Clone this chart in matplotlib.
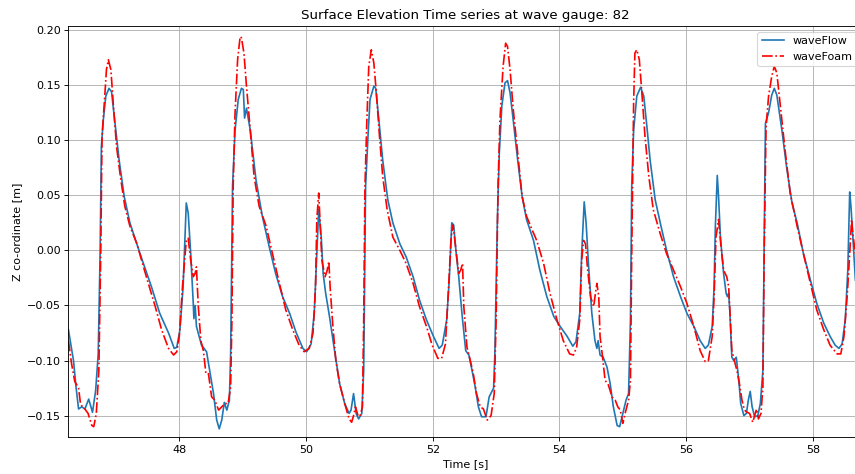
import matplotlib
matplotlib.use("Agg")
import matplotlib.pyplot as plt

# waveFlow (blue) - time [s], elevation [m]
flow_t = [46.25, 46.33, 46.37, 46.41, 46.46, 46.51, 46.57, 46.63, 46.68, 46.72,
          46.75, 46.77, 46.80, 46.84, 46.89, 46.93, 46.98, 47.05, 47.13, 47.22,
          47.38, 47.56, 47.69, 47.83, 47.92, 47.96, 48.01, 48.06, 48.11, 48.14,
          48.18, 48.22, 48.23, 48.25, 48.27, 48.35, 48.43, 48.48, 48.54, 48.59,
          48.63, 48.67, 48.71, 48.75, 48.79, 48.81, 48.84, 48.88, 48.93, 48.98,
          49.01, 49.03, 49.06, 49.12, 49.21, 49.31, 49.42, 49.52, 49.63, 49.74,
          49.84, 49.95, 50.01, 50.08, 50.13, 50.17, 50.20, 50.24, 50.27, 50.31,
          50.37, 50.45, 50.53, 50.61, 50.68, 50.71, 50.75, 50.79, 50.83, 50.88,
          50.91, 50.94, 50.98, 51.01, 51.07, 51.10, 51.15, 51.21, 51.29, 51.37,
          51.48, 51.58, 51.69, 51.79, 51.90, 52.01, 52.10, 52.15, 52.22, 52.26,
          52.30, 52.33, 52.37, 52.41, 52.46, 52.52, 52.57, 52.62, 52.67, 52.72,
          52.77, 52.84, 52.89, 52.96, 52.98, 53.02, 53.05, 53.09, 53.14, 53.18,
          53.22, 53.27, 53.34, 53.41, 53.48, 53.59, 53.69, 53.80, 53.91, 54.01,
          54.12, 54.21, 54.26, 54.32, 54.35, 54.39, 54.42, 54.46, 54.51, 54.56,
          54.59, 54.61, 54.64, 54.69, 54.75, 54.80, 54.85, 54.91, 54.95, 55.00,
          55.05, 55.09, 55.12, 55.14, 55.17, 55.22, 55.28, 55.33, 55.38, 55.43,
          55.51, 55.59, 55.69, 55.80, 55.91, 56.01, 56.12, 56.22, 56.30, 56.35,
          56.41, 56.44, 56.46, 56.49, 56.51, 56.54, 56.59, 56.63, 56.65, 56.67,
          56.69, 56.72, 56.75, 56.79, 56.83, 56.86, 56.91, 56.95, 56.98, 57.01,
          57.04, 57.08, 57.13, 57.17, 57.21, 57.24, 57.25, 57.30, 57.35, 57.39,
          57.43, 57.51, 57.59, 57.67, 57.75, 57.85, 57.96, 58.06, 58.17, 58.27,
          58.35, 58.41, 58.46, 58.51, 58.55, 58.58, 58.60, 58.63, 58.67]
flow_z = [-0.072, -0.100, -0.124, -0.144, -0.142, -0.144, -0.135, -0.147, -0.127, -0.094,
          -0.003, 0.094, 0.118, 0.140, 0.147, 0.144, 0.118, 0.082, 0.049, 0.025,
          -0.003, -0.033, -0.057, -0.075, -0.089, -0.088, -0.072, -0.033, 0.043, 0.034,
          -0.003, -0.048, -0.062, -0.050, -0.069, -0.086, -0.092, -0.109, -0.130, -0.154,
          -0.162, -0.154, -0.138, -0.145, -0.136, -0.094, 0.058, 0.109, 0.137, 0.147,
          0.146, 0.120, 0.129, 0.109, 0.064, 0.031, 0.003, -0.021, -0.042, -0.057,
          -0.074, -0.089, -0.092, -0.085, -0.057, -0.003, 0.037, 0.012, -0.021, -0.039,
          -0.060, -0.091, -0.121, -0.139, -0.148, -0.145, -0.130, -0.148, -0.153, -0.148,
          -0.109, 0.058, 0.106, 0.137, 0.149, 0.147, 0.118, 0.082, 0.046, 0.025,
          0.006, -0.006, -0.024, -0.045, -0.063, -0.078, -0.089, -0.086, -0.063, -0.027,
          0.025, 0.023, -0.003, -0.024, -0.057, -0.091, -0.095, -0.109, -0.124, -0.142,
          -0.151, -0.151, -0.133, -0.125, -0.094, 0.028, 0.088, 0.131, 0.152, 0.154,
          0.143, 0.118, 0.082, 0.049, 0.028, 0.009, -0.018, -0.042, -0.060, -0.069,
          -0.078, -0.087, -0.083, -0.057, -0.003, 0.044, 0.025, -0.015, -0.057, -0.082,
          -0.089, -0.082, -0.095, -0.097, -0.106, -0.121, -0.142, -0.159, -0.160, -0.148,
          -0.136, -0.130, -0.063, 0.058, 0.109, 0.140, 0.148, 0.140, 0.112, 0.082,
          0.046, 0.025, 0.000, -0.024, -0.042, -0.057, -0.069, -0.082, -0.089, -0.086,
          -0.069, -0.033, 0.022, 0.068, 0.049, 0.012, -0.021, -0.039, -0.042, -0.039,
          -0.057, -0.097, -0.100, -0.097, -0.118, -0.139, -0.150, -0.148, -0.136, -0.128,
          -0.142, -0.151, -0.150, -0.139, -0.109, 0.058, 0.115, 0.125, 0.141, 0.147,
          0.141, 0.109, 0.073, 0.043, 0.025, -0.003, -0.027, -0.048, -0.066, -0.078,
          -0.086, -0.089, -0.085, -0.063, -0.018, 0.053, 0.040, 0.012, -0.027]

# waveFoam (red) - time [s], elevation [m]
foam_t = [46.25, 46.30, 46.35, 46.41, 46.44, 46.47, 46.51, 46.56, 46.62, 46.65,
          46.69, 46.73, 46.76, 46.78, 46.82, 46.85, 46.88, 46.92, 46.96, 47.01,
          47.07, 47.14, 47.22, 47.33, 47.48, 47.62, 47.72, 47.83, 47.91, 47.96,
          48.00, 48.05, 48.11, 48.14, 48.18, 48.22, 48.25, 48.27, 48.30, 48.34,
          48.38, 48.42, 48.46, 48.51, 48.56, 48.62, 48.67, 48.72, 48.77, 48.81,
          48.83, 48.85, 48.88, 48.92, 48.96, 48.98, 49.02, 49.06, 49.12, 49.18,
          49.26, 49.37, 49.47, 49.58, 49.68, 49.79, 49.89, 49.97, 50.05, 50.11,
          50.15, 50.17, 50.20, 50.22, 50.25, 50.30, 50.33, 50.36, 50.38, 50.42,
          50.47, 50.53, 50.61, 50.68, 50.72, 50.75, 50.78, 50.82, 50.85, 50.89,
          50.91, 50.93, 50.96, 50.99, 51.03, 51.07, 51.11, 51.16, 51.21, 51.28,
          51.37, 51.48, 51.58, 51.69, 51.79, 51.90, 51.99, 52.08, 52.14, 52.20,
          52.25, 52.29, 52.32, 52.36, 52.41, 52.44, 52.47, 52.49, 52.54, 52.58,
          52.64, 52.69, 52.75, 52.80, 52.86, 52.92, 52.97, 53.00, 53.03, 53.06,
          53.11, 53.15, 53.18, 53.22, 53.27, 53.34, 53.41, 53.48, 53.58, 53.64,
          53.75, 53.85, 53.96, 54.06, 54.16, 54.22, 54.27, 54.32, 54.35, 54.38,
          54.41, 54.44, 54.49, 54.54, 54.56, 54.59, 54.62, 54.64, 54.68, 54.72,
          54.77, 54.83, 54.88, 54.92, 54.96, 55.00, 55.04, 55.09, 55.12, 55.14,
          55.17, 55.19, 55.22, 55.26, 55.30, 55.35, 55.41, 55.48, 55.59, 55.69,
          55.80, 55.91, 56.01, 56.12, 56.22, 56.30, 56.35, 56.41, 56.44, 56.47,
          56.51, 56.55, 56.59, 56.64, 56.67, 56.69, 56.72, 56.76, 56.80, 56.84,
          56.88, 56.92, 56.96, 57.00, 57.05, 57.11, 57.14, 57.18, 57.21, 57.23,
          57.26, 57.30, 57.35, 57.39, 57.43, 57.48, 57.56, 57.64, 57.75, 57.85,
          57.96, 58.06, 58.17, 58.27, 58.38, 58.44, 58.49, 58.54, 58.58, 58.61,
          58.63, 58.67]
foam_z = [-0.082, -0.103, -0.119, -0.125, -0.139, -0.142, -0.144, -0.148, -0.159, -0.160,
          -0.148, -0.109, -0.003, 0.103, 0.137, 0.164, 0.173, 0.164, 0.131, 0.094,
          0.067, 0.040, 0.022, 0.006, -0.024, -0.051, -0.072, -0.089, -0.095, -0.092,
          -0.078, -0.033, 0.009, 0.011, -0.009, -0.024, -0.021, -0.015, -0.051, -0.082,
          -0.091, -0.112, -0.112, -0.133, -0.136, -0.145, -0.142, -0.139, -0.139, -0.124,
          -0.063, 0.058, 0.125, 0.173, 0.194, 0.193, 0.179, 0.149, 0.109, 0.067,
          0.040, 0.022, -0.003, -0.030, -0.054, -0.072, -0.086, -0.092, -0.089, -0.075,
          -0.033, 0.028, 0.052, 0.028, -0.009, -0.024, -0.019, -0.010, -0.033, -0.066,
          -0.100, -0.121, -0.139, -0.153, -0.156, -0.150, -0.142, -0.150, -0.151, -0.142,
          -0.063, 0.058, 0.118, 0.167, 0.182, 0.170, 0.143, 0.103, 0.067, 0.037,
          0.012, 0.000, -0.012, -0.030, -0.051, -0.069, -0.086, -0.098, -0.098, -0.085,
          -0.033, 0.012, 0.023, 0.003, -0.021, -0.018, -0.012, -0.051, -0.088, -0.097,
          -0.112, -0.130, -0.142, -0.144, -0.154, -0.150, -0.130, -0.063, 0.058, 0.118,
          0.167, 0.188, 0.185, 0.164, 0.128, 0.088, 0.049, 0.031, 0.017, 0.009,
          -0.012, -0.039, -0.063, -0.082, -0.094, -0.095, -0.088, -0.063, -0.009, 0.009,
          0.006, -0.015, -0.042, -0.051, -0.042, -0.030, -0.042, -0.078, -0.097, -0.118,
          -0.122, -0.133, -0.136, -0.142, -0.145, -0.157, -0.147, -0.136, -0.118, -0.003,
          0.134, 0.179, 0.182, 0.173, 0.143, 0.103, 0.067, 0.037, 0.015, -0.003,
          -0.018, -0.033, -0.048, -0.069, -0.091, -0.101, -0.100, -0.078, -0.042, 0.012,
          0.028, 0.003, -0.018, -0.024, -0.033, -0.057, -0.091, -0.100, -0.109, -0.121,
          -0.136, -0.145, -0.147, -0.148, -0.156, -0.144, -0.153, -0.148, -0.124, -0.003,
          0.112, 0.140, 0.158, 0.167, 0.161, 0.134, 0.091, 0.052, 0.022, -0.003,
          -0.030, -0.054, -0.072, -0.086, -0.094, -0.094, -0.078, -0.042, -0.003, 0.028,
          0.015, -0.003]

# the reference looks like a figure rendered at a lower dpi, so scale everything down
dpi = 80
fig = plt.figure(figsize=(855 / dpi, 474 / dpi), dpi=dpi)
ax = fig.add_axes([68.3 / 855, 37 / 474, 794.7 / 855, 411 / 474])

ax.plot(flow_t, flow_z, color='tab:blue', lw=1.5, label='waveFlow')
ax.plot(foam_t, foam_z, 'r-.', lw=1.5, label='waveFoam')

ax.set_xlim(46.248, 58.79)
ax.set_ylim(-0.1694, 0.2036)
ax.set_xticks([48, 50, 52, 54, 56, 58])
ax.set_yticks([-0.15, -0.10, -0.05, 0.00, 0.05, 0.10, 0.15, 0.20])
ax.grid(True)
ax.set_title('Surface Elevation Time series at wave gauge: 82')
ax.set_xlabel('Time [s]')
ax.set_ylabel('Z co-ordinate [m]')
ax.legend(loc='upper right')

fig.savefig('out.png', dpi=dpi)
